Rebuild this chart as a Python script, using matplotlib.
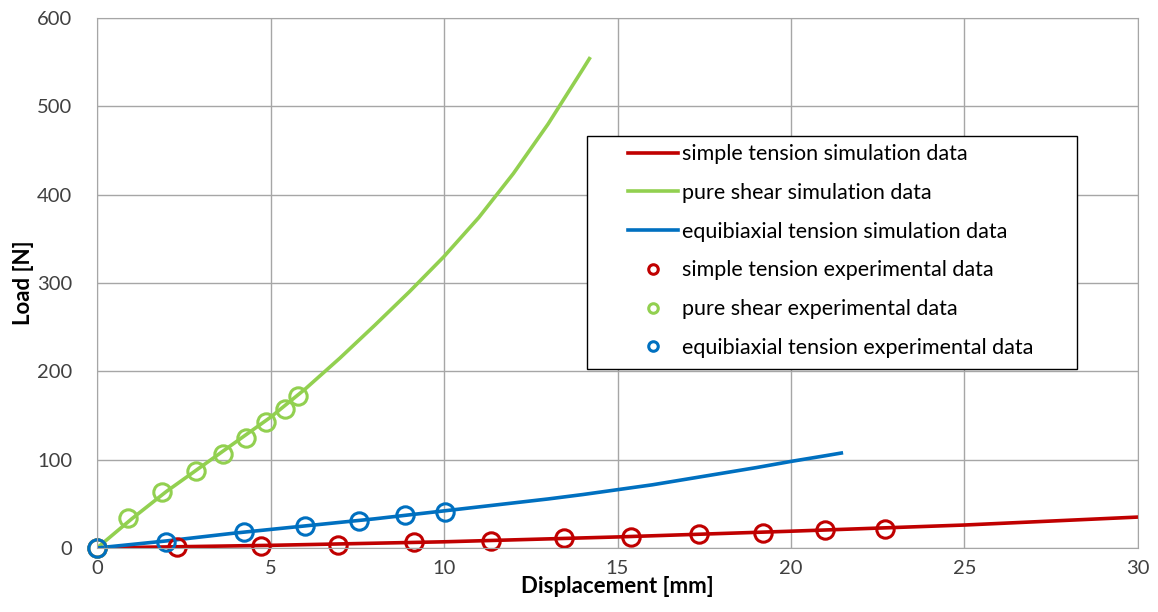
import matplotlib.pyplot as plt
from matplotlib.patches import Rectangle

# simulation curves
st_sim_x = [0, 5, 10, 15, 20, 25, 30]
st_sim_y = [0, 3, 7, 12.5, 19, 26, 35]

ps_sim_x = [0, 1, 2, 3, 4, 5, 6, 7, 8, 9, 10, 11, 12, 13, 14, 14.19]
ps_sim_y = [0, 33, 64, 92, 120, 148, 180, 215, 252, 290, 330, 374, 424, 480, 542, 554]

eb_sim_x = [0, 2, 4, 6, 8, 10, 11, 12, 13, 14, 15, 16, 17, 18, 19, 20, 21, 21.45]
eb_sim_y = [0, 8, 17, 25, 33, 42, 46.5, 51, 55.5, 60.5, 66, 71.5, 78, 84.5, 91, 98, 104.5, 107.5]

# experimental points
st_exp_x = [0, 2.3, 4.73, 6.94, 9.14, 11.34, 13.46, 15.38, 17.36, 19.2, 20.99, 22.7]
st_exp_y = [0, 1, 2.5, 3.5, 7, 8, 11, 12.5, 15.5, 17, 20, 22]

ps_exp_x = [0, 0.9, 1.86, 2.85, 3.64, 4.28, 4.86, 5.42, 5.8]
ps_exp_y = [0, 34, 63, 87, 106, 125, 143, 157, 172]

eb_exp_x = [0, 1.99, 4.24, 6.0, 7.56, 8.88, 10.03]
eb_exp_y = [0, 7, 18, 25, 31, 37, 41]

red = '#C00000'
green = '#92D050'
blue = '#0070C0'

plt.rcParams['font.family'] = ['Lato', 'DejaVu Sans']

fig, ax = plt.subplots(figsize=(11.58, 6.12), dpi=100)
fig.subplots_adjust(left=0.0838, right=0.9827, top=0.9706, bottom=0.1046)

ax.plot(st_sim_x, st_sim_y, color=red, lw=2.6, label='simple tension simulation data')
ax.plot(ps_sim_x, ps_sim_y, color=green, lw=2.6, label='pure shear simulation data')
ax.plot(eb_sim_x, eb_sim_y, color=blue, lw=2.6, label='equibiaxial tension simulation data')

mk = dict(ls='none', marker='o', ms=12.5, mfc='none', mew=2.2, clip_on=False)
ax.plot(st_exp_x, st_exp_y, color=red, label='simple tension experimental data', **mk)
ax.plot(ps_exp_x, ps_exp_y, color=green, label='pure shear experimental data', **mk)
ax.plot(eb_exp_x, eb_exp_y, color=blue, label='equibiaxial tension experimental data', **mk)

ax.set_xlim(0, 30)
ax.set_ylim(0, 600)
ax.set_xticks(range(0, 31, 5))
ax.set_yticks(range(0, 601, 100))
ax.grid(True, color='#A6A6A6', lw=1)
ax.set_axisbelow(True)
for s in ax.spines.values():
    s.set_color('#A6A6A6')
ax.tick_params(length=0, labelsize=14.5, colors='#404040')
ax.tick_params(axis='y', pad=18)
ax.tick_params(axis='x', pad=9)

ax.set_xlabel('Displacement [mm]', fontsize=16, fontweight='bold', labelpad=-1)
ax.set_ylabel('Load [N]', fontsize=16, fontweight='bold', labelpad=2)

# legend box is wider than its contents, as in the original
box = Rectangle((0.4707, 0.3377), 0.4707, 0.4397, transform=ax.transAxes,
                facecolor='white', edgecolor='black', lw=1, zorder=4)
ax.add_patch(box)
leg = ax.legend(loc='upper left', bbox_to_anchor=(0.5101, 0.762), fontsize=15.5,
                frameon=False, handlelength=2.3, handletextpad=0.2,
                labelspacing=0.87, borderpad=0, borderaxespad=0, markerscale=0.55)
leg.set_zorder(5)

plt.savefig('out.png')
